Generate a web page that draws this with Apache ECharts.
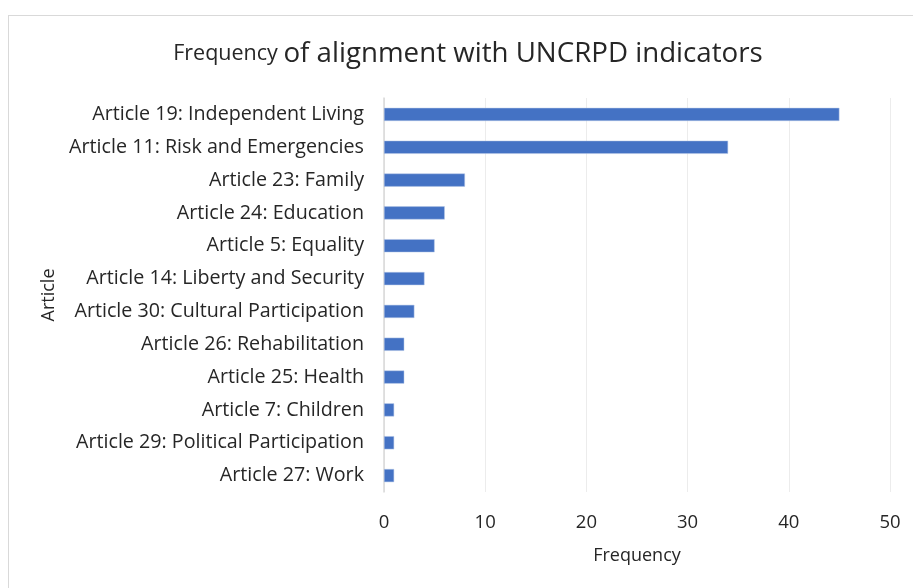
<!DOCTYPE html>
<html><head><meta charset="utf-8">
<script src="https://cdn.jsdelivr.net/npm/echarts@6/dist/echarts.min.js"></script>
<style>html,body{margin:0;padding:0;background:#fff}#c{width:913px;height:588px;position:relative}
#frame{position:absolute;left:8px;top:15px;width:1000px;height:1000px;border:1px solid #d9d9d9;pointer-events:none}</style>
</head><body><div id="c"></div><div id="frame"></div>
<script>
const categories = [
  "Article 19: Independent Living",
  "Article 11: Risk and Emergencies",
  "Article 23: Family",
  "Article 24: Education",
  "Article 5: Equality",
  "Article 14: Liberty and Security",
  "Article 30: Cultural Participation",
  "Article 26: Rehabilitation",
  "Article 25: Health",
  "Article 7: Children",
  "Article 29: Political Participation",
  "Article 27: Work"
];
const frequency = [45, 34, 8, 6, 5, 4, 3, 2, 2, 1, 1, 1];
const xTicks = [0, 10, 20, 30, 40, 50];

const font = "'Open Sans', sans-serif";
const chart = echarts.init(document.getElementById('c'), null, {renderer: 'canvas'});
chart.setOption({
  animation: false,
  title: {
    text: '{a|Frequency }{b|of alignment with UNCRPD indicators}',
    left: 463, top: 35, textAlign: 'center',
    textStyle: {
      fontWeight: 'normal',
      rich: {
        a: {fontSize: 21.5, color: '#262626', fontFamily: font, fontWeight: 'normal'},
        b: {fontSize: 27.7, color: '#262626', fontFamily: font, fontWeight: 'normal'}
      }
    }
  },
  grid: {left: 384, right: 23, top: 98, bottom: 96},
  xAxis: {
    type: 'value', min: xTicks[0], max: xTicks[xTicks.length-1], interval: 10,
    name: 'Frequency', nameLocation: 'middle', nameGap: 55,
    nameTextStyle: {fontSize: 18, color: '#262626', fontFamily: font},
    axisLine: {show: false}, axisTick: {show: false},
    axisLabel: {fontSize: 18.5, color: '#262626', fontFamily: font, margin: 21},
    splitLine: {lineStyle: {color: '#ececec', width: 1}}
  },
  yAxis: {
    type: 'category', inverse: true, data: categories,
    name: 'Article', nameLocation: 'middle', nameGap: 317, nameRotate: 90,
    nameTextStyle: {fontSize: 18, color: '#262626', fontFamily: font},
    axisLine: {show: true, lineStyle: {color: '#d9d9d9', width: 1.5}},
    axisTick: {show: false},
    axisLabel: {fontSize: 19.7, color: '#262626', fontFamily: font, margin: 20}
  },
  series: [{
    type: 'bar', data: frequency, barWidth: '40%',
    itemStyle: {color: '#4472c4', borderColor: '#b4c7e7', borderWidth: 0.5}
  }]
});
</script></body></html>
